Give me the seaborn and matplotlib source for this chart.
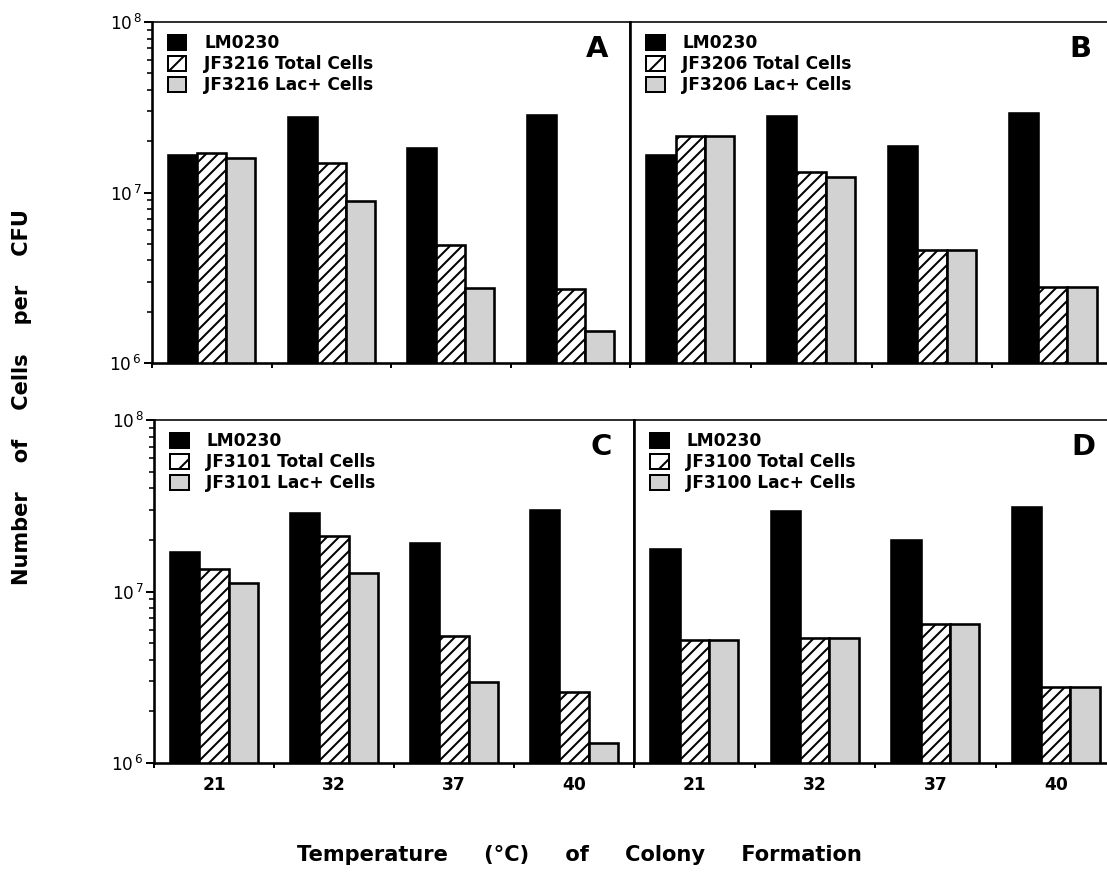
import numpy as np
import pandas as pd
import matplotlib
matplotlib.use("Agg")
import matplotlib.pyplot as plt
import seaborn as sns
from matplotlib.patches import Patch
from matplotlib.ticker import LogLocator, NullFormatter, FixedLocator

# ---------------- data ----------------
temps = ["21", "32", "37", "40"]

lm_A = [1.66e7, 2.77e7, 1.82e7, 2.85e7]
tot_A = [1.70e7, 1.49e7, 4.9e6, 2.7e6]
lac_A = [1.60e7, 8.9e6, 2.75e6, 1.54e6]

lm_B = [1.66e7, 2.80e7, 1.87e7, 2.93e7]
tot_B = [2.15e7, 1.32e7, 4.6e6, 2.8e6]
lac_B = [2.15e7, 1.23e7, 4.6e6, 2.8e6]

lm_C = [1.70e7, 2.88e7, 1.91e7, 3.00e7]
tot_C = [1.35e7, 2.10e7, 5.5e6, 2.6e6]
lac_C = [1.12e7, 1.29e7, 2.95e6, 1.31e6]

lm_D = [1.77e7, 2.95e7, 2.00e7, 3.10e7]
tot_D = [5.2e6, 5.35e6, 6.5e6, 2.76e6]
lac_D = [5.2e6, 5.35e6, 6.5e6, 2.76e6]

strains = ["JF3216", "JF3206", "JF3101", "JF3100"]
panel_letters = ["A", "B", "C", "D"]
ref_name = "LM0230"
series_suffix = ["Total Cells", "Lac+ Cells"]
ytick_vals = [1e6, 1e7, 1e8]
ytick_labels = [r"$\mathregular{10^{\,6}}$", r"$\mathregular{10^{\,7}}$", r"$\mathregular{10^{\,8}}$"]

panels = [(lm_A, tot_A, lac_A), (lm_B, tot_B, lac_B),
          (lm_C, tot_C, lac_C), (lm_D, tot_D, lac_D)]

# ---------------- style ----------------
sns.set_style("ticks")
plt.rcParams["font.family"] = ["DejaVu Sans"]
plt.rcParams["hatch.linewidth"] = 2.0
plt.rcParams["mathtext.default"] = "regular"
for k in ["text.color", "axes.edgecolor", "axes.labelcolor", "xtick.color", "ytick.color"]:
    plt.rcParams[k] = "black"

DPI = 72
W, H = 1107, 884
fig = plt.figure(figsize=(W / DPI, H / DPI), dpi=DPI)

def frac(x0, y0, x1, y1):
    return [x0 / W, 1 - y1 / H, (x1 - x0) / W, (y1 - y0) / H]

boxes = [frac(152, 22, 630, 363), frac(630, 22, 1113, 363),
         frac(154, 420, 634, 763), frac(634, 420, 1116, 763)]

gray = "#d2d2d2"
colors = ["black", "white", gray]

for i, (lm, tot, lac) in enumerate(panels):
    ax = fig.add_axes(boxes[i])
    strain = strains[i]
    names = [ref_name, f"{strain} {series_suffix[0]}", f"{strain} {series_suffix[1]}"]
    df = pd.DataFrame({
        "temp": temps * 3,
        "value": list(lm) + list(tot) + list(lac),
        "series": [names[0]] * 4 + [names[1]] * 4 + [names[2]] * 4,
    })
    sns.barplot(data=df, x="temp", y="value", hue="series", hue_order=names,
                order=temps, palette=colors, ax=ax, width=0.73, log_scale=True,
                legend=False, saturation=1)
    for c in ax.containers:
        for bar in c:
            bar.set_edgecolor("black")
            bar.set_linewidth(2.6)
    for bar in ax.containers[1]:
        bar.set_hatch("//")
    ax.set_yscale("log")
    ax.set_ylim(1e6, 1e8)
    ax.set_xlim(-0.5, 3.5)
    ax.set_xlabel("")
    ax.set_ylabel("")

    for s in ["top", "right"]:
        ax.spines[s].set_visible(True)
        ax.spines[s].set_linewidth(1.6)
    for s in ["left", "bottom"]:
        ax.spines[s].set_linewidth(2.6)

    ax.xaxis.set_major_locator(FixedLocator([0, 1, 2, 3]))
    ax.xaxis.set_minor_locator(FixedLocator([-0.5, 0.5, 1.5, 2.5, 3.5]))
    ax.tick_params(axis="x", which="major", length=0, pad=13)
    ax.tick_params(axis="x", which="minor", length=5, width=2, direction="out")
    if i >= 2:
        ax.set_xticklabels(temps, fontsize=17, fontweight="bold")
    else:
        ax.set_xticklabels([])

    if i % 2 == 0:
        ax.set_yticks(ytick_vals)
        ax.set_yticklabels(ytick_labels, fontsize=17)
        ax.yaxis.set_minor_locator(LogLocator(base=10, subs=np.arange(2, 10)))
        ax.yaxis.set_minor_formatter(NullFormatter())
        ax.tick_params(axis="y", which="major", length=8, width=2, pad=2)
        ax.tick_params(axis="y", which="minor", length=5, width=1.6)
    else:
        ax.set_yticks([])
        ax.yaxis.set_minor_locator(FixedLocator([]))
        ax.tick_params(axis="y", which="both", length=0)

    handles = [
        Patch(facecolor="black", edgecolor="black", linewidth=2),
        Patch(facecolor="white", edgecolor="black", linewidth=2, hatch="/"),
        Patch(facecolor=gray, edgecolor="black", linewidth=2),
    ]
    ax.legend(handles, names, loc="upper left", bbox_to_anchor=(0.033, 0.965),
              frameon=False, borderaxespad=0, borderpad=0, handlelength=1.1,
              handleheight=1.0, handletextpad=1.05, labelspacing=0.18,
              prop={"family": "DejaVu Sans", "weight": "bold", "size": 17})

    ax.text(0.932, 0.921, panel_letters[i], transform=ax.transAxes,
            ha="center", va="center", fontsize=29, fontweight="bold")

fig.text(22 / W, 1 - 397 / H, "Number    of    Cells    per    CFU",
         rotation=90, ha="center", va="center", fontsize=21, fontweight="bold")
fig.text(579 / W, 1 - 855 / H, "Temperature     (°C)     of     Colony     Formation",
         ha="center", va="center", fontsize=21, fontweight="bold")

fig.savefig("out.png", dpi=DPI, facecolor="white")
